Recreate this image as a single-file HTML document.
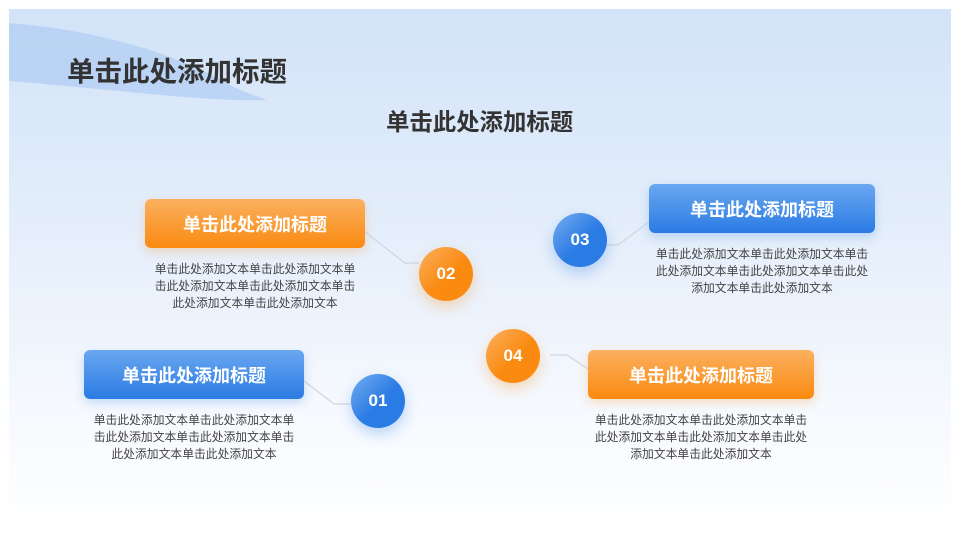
<!DOCTYPE html>
<html><head><meta charset="utf-8"><style>
*{margin:0;padding:0;box-sizing:border-box}
body{width:960px;height:548px;background:#fff;position:relative;overflow:hidden;font-family:"Liberation Sans","Noto Sans CJK SC",sans-serif}
.slide{position:absolute;left:9px;top:9px;width:942px;height:530px;background:linear-gradient(180deg,#d2e3f8 0%,#e6effb 45%,#f6f9fe 75%,#fff 100%);overflow:hidden}
.t{position:absolute;font-weight:bold;color:#333;white-space:nowrap}
.box{position:absolute;height:49px;border-radius:6px;color:#fff;font-weight:bold;font-size:18px;display:flex;align-items:center;justify-content:center}
.or{background:linear-gradient(180deg,#fbb060,#fa8a10);box-shadow:0 4px 10px rgba(250,140,20,.25)}
.bl{background:linear-gradient(180deg,#6aa7f0,#2a7be4);box-shadow:0 4px 10px rgba(42,123,228,.25)}
.c{position:absolute;width:54px;height:54px;border-radius:50%;color:#fff;font-weight:bold;font-size:17px;display:flex;align-items:center;justify-content:center}
.c.or{background:linear-gradient(135deg,#fbb060,#fa8a10 55%);box-shadow:0 6px 14px rgba(250,140,20,.3)}
.c.bl{background:linear-gradient(135deg,#74acf0,#2a7be4 55%);box-shadow:0 6px 14px rgba(42,123,228,.3)}
.p{position:absolute;font-size:11.8px;line-height:17px;color:#444;text-align:center;width:204px}
.p.w{width:216px}
</style></head><body>
<div class="slide">
<svg width="942" height="530" style="position:absolute;left:0;top:0">
<path d="M0 14 C80 20 160 42 210 70 C230 82 250 88 258 91 C200 93 120 82 0 72 Z" fill="#a9c8f2" opacity=".6"/>
<g stroke="#cfd6e0" stroke-width="1.2" fill="none">
<polyline points="356,223 396,254 410,254"/>
<polyline points="598,236 609,236 640,213"/>
<polyline points="295,372 325,395 342,395"/>
<polyline points="541,346 558,346 579,360"/>
</g>
</svg>
</div>
<div class="t" style="left:67px;top:49px;font-size:27.5px">单击此处添加标题</div>
<div class="t" style="left:386px;top:103px;font-size:23.4px">单击此处添加标题</div>

<div class="box or" style="left:145px;top:199px;width:220px">单击此处添加标题</div>
<div class="p" style="left:153px;top:261px">单击此处添加文本单击此处添加文本单击此处添加文本单击此处添加文本单击此处添加文本单击此处添加文本</div>
<div class="c or" style="left:419px;top:247px">02</div>

<div class="box bl" style="left:649px;top:184px;width:226px">单击此处添加标题</div>
<div class="p w" style="left:654px;top:246px">单击此处添加文本单击此处添加文本单击此处添加文本单击此处添加文本单击此处添加文本单击此处添加文本</div>
<div class="c bl" style="left:553px;top:213px">03</div>

<div class="box bl" style="left:84px;top:350px;width:220px">单击此处添加标题</div>
<div class="p" style="left:92px;top:412px">单击此处添加文本单击此处添加文本单击此处添加文本单击此处添加文本单击此处添加文本单击此处添加文本</div>
<div class="c bl" style="left:351px;top:374px">01</div>

<div class="box or" style="left:588px;top:350px;width:226px">单击此处添加标题</div>
<div class="p w" style="left:593px;top:412px">单击此处添加文本单击此处添加文本单击此处添加文本单击此处添加文本单击此处添加文本单击此处添加文本</div>
<div class="c or" style="left:486px;top:329px">04</div>
</body></html>
